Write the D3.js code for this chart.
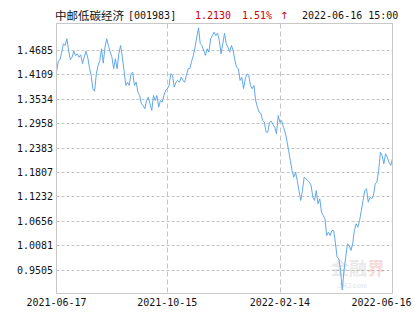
<!DOCTYPE html>
<html><head><meta charset="utf-8">
<script src="https://cdn.jsdelivr.net/npm/d3@7"></script>
<style>html,body{margin:0;padding:0;background:#fff;}svg{display:block;}</style>
</head><body>
<svg id="c" width="415" height="330"></svg>
<script>
const fundName = "中邮低碳经济";
const fundCode = "[001983]";
const lastValue = "1.2130";
const changePct = "1.51%";
const stamp = "2022-06-16 15:00";
const startDate = "2021-06-17", endDate = "2022-06-16";
const xTickLabels = ["2021-06-17", "2021-10-15", "2022-02-14", "2022-06-16"];
const yTickLabels = ["1.4685","1.4109","1.3534","1.2958","1.2383","1.1807","1.1232","1.0656","1.0081","0.9505"];
const yDomain = [0.8947, 1.5304];
const navValues = [
1.4158,1.4417,1.4450,1.4629,1.4826,1.4786,1.4944,1.4669,1.4450,1.4511,1.4652,1.4551,1.4591,1.4511,1.4567,1.4355,1.4511,1.4652,1.4511,1.4275,1.4080,1.3767,1.3710,1.4120,1.4315,1.4433,1.4709,1.4370,1.4746,1.4944,1.4786,1.4629,1.4511,1.4238,1.4473,1.4238,1.4591,1.4786,1.4511,1.4198,1.3845,1.3922,1.3845,1.4120,1.4158,1.3845,1.3922,1.3687,1.3609,1.3414,1.3374,1.3296,1.3491,1.3569,1.3414,1.3256,1.3609,1.3491,1.3609,1.3334,1.3491,1.3451,1.3609,1.3727,1.3767,1.3845,1.4120,1.4080,1.3805,1.3922,1.3962,1.3922,1.4040,1.3962,1.3922,1.4080,1.4238,1.4245,1.4410,1.4551,1.4746,1.4982,1.5203,1.4826,1.4786,1.4669,1.4551,1.4709,1.4629,1.4944,1.5022,1.5100,1.5022,1.5076,1.4904,1.4591,1.4826,1.5076,1.4826,1.4746,1.4629,1.4786,1.4669,1.4433,1.4275,1.4238,1.3962,1.4040,1.3767,1.4002,1.4120,1.4080,1.3845,1.3767,1.3845,1.3491,1.3334,1.3216,1.3192,1.3020,1.2980,1.2745,1.2745,1.2980,1.3004,1.2926,1.2863,1.2707,1.3138,1.2980,1.3020,1.2863,1.2745,1.2549,1.2314,1.2079,1.1843,1.1685,1.1803,1.1608,1.1372,1.1137,1.1372,1.1685,1.1648,1.1608,1.1568,1.1490,1.1214,1.1137,1.1372,1.1059,1.1177,1.0861,1.0784,1.0706,1.0313,1.0390,1.0313,1.0430,1.0430,1.0155,0.9802,0.9764,0.9489,0.9030,0.9489,0.9802,1.0117,1.0077,0.9959,1.0117,1.0430,1.0588,1.0508,1.0666,1.0901,1.1137,1.1372,1.1412,1.1097,1.1214,1.1177,1.1254,1.1530,1.1568,1.1843,1.2274,1.2196,1.2001,1.2236,1.2156,1.2039,1.1961,1.2130
];

const svg = d3.select("#c");
const L = 56.5, R = 392.5, T = 23.5, B = 293.5;
const mono = "'DejaVu Sans Mono', 'Liberation Mono', monospace";
const parse = d3.timeParse("%Y-%m-%d");

const xTime = d3.scaleTime().domain([parse(startDate), parse(endDate)]).range([L, R]);
const xIdx = d3.scaleLinear().domain([0, navValues.length - 1]).range([L, R]);
const y = d3.scaleLinear().domain(yDomain).range([B, T]);

// horizontal grid
const yTicks = yTickLabels.map(Number);
svg.append("g").selectAll("line").data(yTicks).join("line")
  .attr("x1", L).attr("x2", R)
  .attr("y1", d => Math.round(y(d)) + 0.5).attr("y2", d => Math.round(y(d)) + 0.5)
  .attr("stroke", "#c4c4c4").attr("stroke-width", 1).attr("stroke-dasharray", "3,2");

// vertical grid
const xTicks = xTickLabels.map(parse);
svg.append("g").selectAll("line").data(xTicks.slice(1, -1)).join("line")
  .attr("x1", d => Math.round(xTime(d)) + 0.5).attr("x2", d => Math.round(xTime(d)) + 0.5)
  .attr("y1", T).attr("y2", B)
  .attr("stroke", "#c4c4c4").attr("stroke-width", 1).attr("stroke-dasharray", "5,3");

// watermark
const wm = svg.append("g").attr("opacity", 0.18);
wm.append("text").attr("x", 331).attr("y", 275).attr("font-family", "'Noto Sans CJK SC'")
  .attr("font-size", 18).attr("font-weight", "bold").attr("fill", "#888").text("金融");
wm.append("text").attr("x", 367).attr("y", 275).attr("font-family", "'Noto Sans CJK SC'")
  .attr("font-size", 18).attr("font-weight", "bold").attr("fill", "#d04040").text("界");
wm.append("text").attr("x", 338).attr("y", 288).attr("font-family", "Arial, 'Liberation Sans'")
  .attr("font-size", 7).attr("font-weight", "bold").attr("fill", "#888").text("JRJ.com");

// line
const line = d3.line().x((d, i) => xIdx(i)).y(d => y(d));
svg.append("path").datum(navValues).attr("d", line)
  .attr("fill", "none").attr("stroke", "#62a8ec").attr("stroke-width", 1);

// frame
svg.append("rect").attr("x", L).attr("y", T).attr("width", R - L).attr("height", B - T)
  .attr("fill", "none").attr("stroke", "#c8c8c8").attr("stroke-width", 1);

// y labels
svg.append("g").selectAll("text").data(yTickLabels).join("text")
  .attr("x", 53).attr("y", d => Math.round(y(+d)) + 4)
  .attr("text-anchor", "end").attr("font-family", mono).attr("font-size", 10)
  .attr("fill", "#111").text(d => d);

// x labels
svg.append("g").selectAll("text").data(xTickLabels).join("text")
  .attr("x", (d, i) => i === xTickLabels.length - 1 ? xTime(parse(d)) - 11 : xTime(parse(d)))
  .attr("y", 305.5)
  .attr("text-anchor", "middle").attr("font-family", mono).attr("font-size", 10)
  .attr("fill", "#111").text(d => d);

// header
svg.append("text").attr("x", 55).attr("y", 19.5).attr("font-family", "'Noto Sans CJK SC'")
  .attr("font-size", 11.5).attr("fill", "#111").text(fundName);
svg.append("text").attr("x", 128).attr("y", 19).attr("font-family", mono)
  .attr("font-size", 10).attr("fill", "#111").text(fundCode);
svg.append("text").attr("x", 195).attr("y", 19).attr("font-family", mono)
  .attr("font-size", 10).attr("fill", "#cc0000").text(lastValue);
svg.append("text").attr("x", 242).attr("y", 19).attr("font-family", mono)
  .attr("font-size", 10).attr("fill", "#cc0000").text(changePct);
svg.append("text").attr("x", 280).attr("y", 19).attr("font-family", "'DejaVu Sans'")
  .attr("font-size", 10).attr("fill", "#cc0000").text("↑");
svg.append("text").attr("x", 302).attr("y", 19).attr("font-family", mono)
  .attr("font-size", 10).attr("fill", "#111").text(stamp);
</script>
</body></html>
